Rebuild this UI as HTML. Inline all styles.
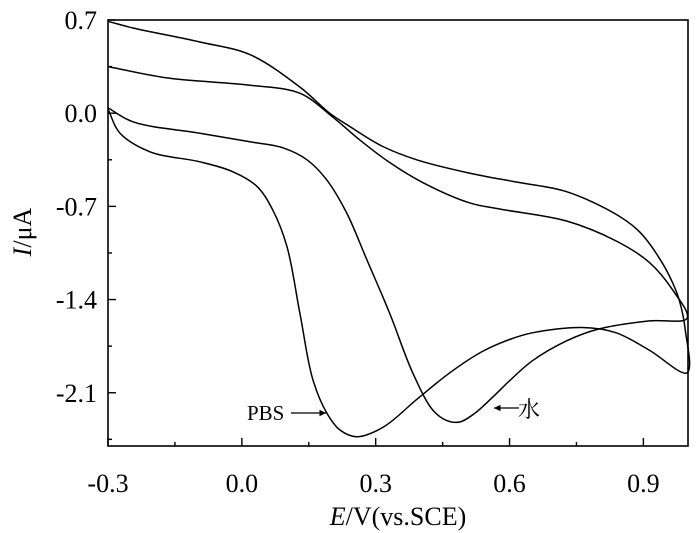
<!DOCTYPE html>
<html><head><meta charset="utf-8"><style>
html,body{margin:0;padding:0;background:#fff;}
svg{display:block;font-family:"Liberation Serif","Noto Serif CJK SC",serif;}
</style></head><body>
<svg id="chart" width="700" height="533" viewBox="0 0 700 533">
<defs><marker id="ah" viewBox="0 0 10 10" refX="10" refY="5" markerWidth="7" markerHeight="5" orient="auto"><path d="M0,0 L10,5 L0,10 z" fill="#000"/></marker></defs>
<g id="plot"></g>
<rect x="108" y="20" width="580" height="426" fill="none" stroke="#000" stroke-width="1.6"/>
<g id="axes"></g>
<text x="398" y="525" font-size="26" text-anchor="middle"><tspan font-style="italic">E</tspan>/V(vs.SCE)</text>
<text transform="translate(31,232) rotate(-90)" font-size="26" text-anchor="middle"><tspan font-style="italic">I</tspan>/μA</text>
<text x="247" y="420" font-size="21">PBS</text>
<line x1="291" y1="413" x2="326" y2="413" stroke="#000" stroke-width="1.3" marker-end="url(#ah)"/>
<line x1="519" y1="408" x2="494" y2="408" stroke="#000" stroke-width="1.3" marker-end="url(#ah)"/>
<text x="518" y="417" font-size="22" font-family="'Noto Serif CJK SC','Noto Sans CJK SC',serif">水</text>
</svg>
<script>
const xTicks=[-0.3,0.0,0.3,0.6,0.9];
const yTicks=[0.7,0.0,-0.7,-1.4,-2.1];
const pbsE=[-0.3,-0.273,-0.206,-0.094,-0.020,0.034,0.069,0.101,0.130,0.159,0.190,0.220,0.257,0.316,0.392,0.466,0.539,0.6,0.651,0.763,0.839,0.913,0.998,
 0.994,0.980,0.965,0.936,0.891,0.839,0.728,0.62,0.510,0.392,0.316,0.242,0.197,0.130,0.018,-0.094,-0.244,-0.3];
const pbsI=[0.03,-0.15,-0.29,-0.365,-0.44,-0.55,-0.725,-1.0,-1.5,-2.0,-2.25,-2.38,-2.43,-2.36,-2.15,-1.95,-1.79,-1.70,-1.65,-1.61,-1.65,-1.78,-1.95,
 -1.63,-1.40,-1.27,-1.09,-0.89,-0.76,-0.59,-0.52,-0.45,-0.35,-0.25,-0.10,0.0,0.197,0.44,0.535,0.64,0.69];
const waterE=[-0.3,-0.244,-0.094,0.018,0.092,0.146,0.190,0.235,0.280,0.331,0.383,0.428,0.46,0.488,0.52,0.56,0.6,0.651,0.728,0.801,0.913,0.998,
 0.965,0.913,0.839,0.728,0.578,0.510,0.405,0.331,0.264,0.204,0.130,0.018,-0.168,-0.3];
const waterI=[0.04,-0.065,-0.15,-0.215,-0.26,-0.35,-0.50,-0.75,-1.10,-1.50,-1.95,-2.23,-2.31,-2.32,-2.26,-2.14,-2.01,-1.86,-1.71,-1.62,-1.56,-1.54,
 -1.325,-1.12,-0.96,-0.81,-0.72,-0.673,-0.52,-0.37,-0.20,-0.03,0.15,0.21,0.265,0.35];
const X0=108,X1=688,Y0=20,Y1=446,EMIN=-0.3,EMAX=1.0,IMIN=-2.5,IMAX=0.7;
function sx(e){return X0+(e-EMIN)/(EMAX-EMIN)*(X1-X0);}
function sy(i){return Y0+(IMAX-i)/(IMAX-IMIN)*(Y1-Y0);}
const NS='http://www.w3.org/2000/svg';
function pathFrom(E,I){
 const p=E.map((e,k)=>[sx(e),sy(I[k])]);
 let d='M'+p[0][0].toFixed(1)+','+p[0][1].toFixed(1);
 const dist=(a,b)=>Math.max(Math.sqrt(Math.hypot(a[0]-b[0],a[1]-b[1])),1e-3);
 for(let k=0;k<p.length-1;k++){
  const p0=p[Math.max(k-1,0)],p1=p[k],p2=p[k+1],p3=p[Math.min(k+2,p.length-1)];
  const d1=dist(p0,p1),d2=dist(p1,p2),d3=dist(p2,p3);
  let c1,c2;
  if(k===0){c1=[p1[0]+(p2[0]-p1[0])/3,p1[1]+(p2[1]-p1[1])/3];}
  else{const A=d1*d1,B=d2*d2,AB=d1*d2;
   c1=[(B*p0[0]*-1+(2*A+3*AB+B)*p1[0]+A*p2[0])/(3*d1*(d1+d2)),(B*p0[1]*-1+(2*A+3*AB+B)*p1[1]+A*p2[1])/(3*d1*(d1+d2))];}
  if(k+2>p.length-1){c2=[p2[0]-(p2[0]-p1[0])/3,p2[1]-(p2[1]-p1[1])/3];}
  else{const C=d3*d3,B=d2*d2,CB=d3*d2;
   c2=[(C*p1[0]+(2*C+3*CB+B)*p2[0]-B*p3[0])/(3*d3*(d3+d2)),(C*p1[1]+(2*C+3*CB+B)*p2[1]-B*p3[1])/(3*d3*(d3+d2))];}
  d+=' C'+c1[0].toFixed(1)+','+c1[1].toFixed(1)+' '+c2[0].toFixed(1)+','+c2[1].toFixed(1)+' '+p2[0].toFixed(1)+','+p2[1].toFixed(1);
 }
 return d;
}
const plot=document.getElementById('plot');
const s1=document.createElementNS(NS,'path');
s1.setAttribute('d',pathFrom(pbsE,pbsI));s1.setAttribute('fill','none');s1.setAttribute('stroke','#000');s1.setAttribute('stroke-width','1.5');


plot.appendChild(s1);
const s2=document.createElementNS(NS,'path');
s2.setAttribute('d',pathFrom(waterE,waterI));s2.setAttribute('fill','none');s2.setAttribute('stroke','#000');s2.setAttribute('stroke-width','1.5');


plot.appendChild(s2);
const axes=document.getElementById('axes');
function line(x1,y1,x2,y2,name){const l=document.createElementNS(NS,'line');l.setAttribute('x1',x1);l.setAttribute('y1',y1);l.setAttribute('x2',x2);l.setAttribute('y2',y2);l.setAttribute('stroke','#000');l.setAttribute('stroke-width','1.4');
 
 
 axes.appendChild(l);}
function text(x,y,s,anchor,name){const t=document.createElementNS(NS,'text');t.setAttribute('x',x);t.setAttribute('y',y);t.setAttribute('font-size','26');t.setAttribute('text-anchor',anchor);t.textContent=s;
 
 
 axes.appendChild(t);}
xTicks.forEach(v=>{const x=sx(v);line(x,Y1,x,Y1-8,'x-tick');text(x,492,v.toFixed(1),'middle','x-tick-label');
 const m=sx(v+0.15);if(v+0.15<EMAX)line(m,Y1,m,Y1-4,'x-minor-tick');});
yTicks.forEach(v=>{const y=sy(v);line(X0,y,X0+8,y,'y-tick');text(97,y+9,v.toFixed(1),'end','y-tick-label');
 const m=sy(v-0.35);if(v-0.35>IMIN)line(X0,m,X0+4,m,'y-minor-tick');});
</script>
</body></html>
